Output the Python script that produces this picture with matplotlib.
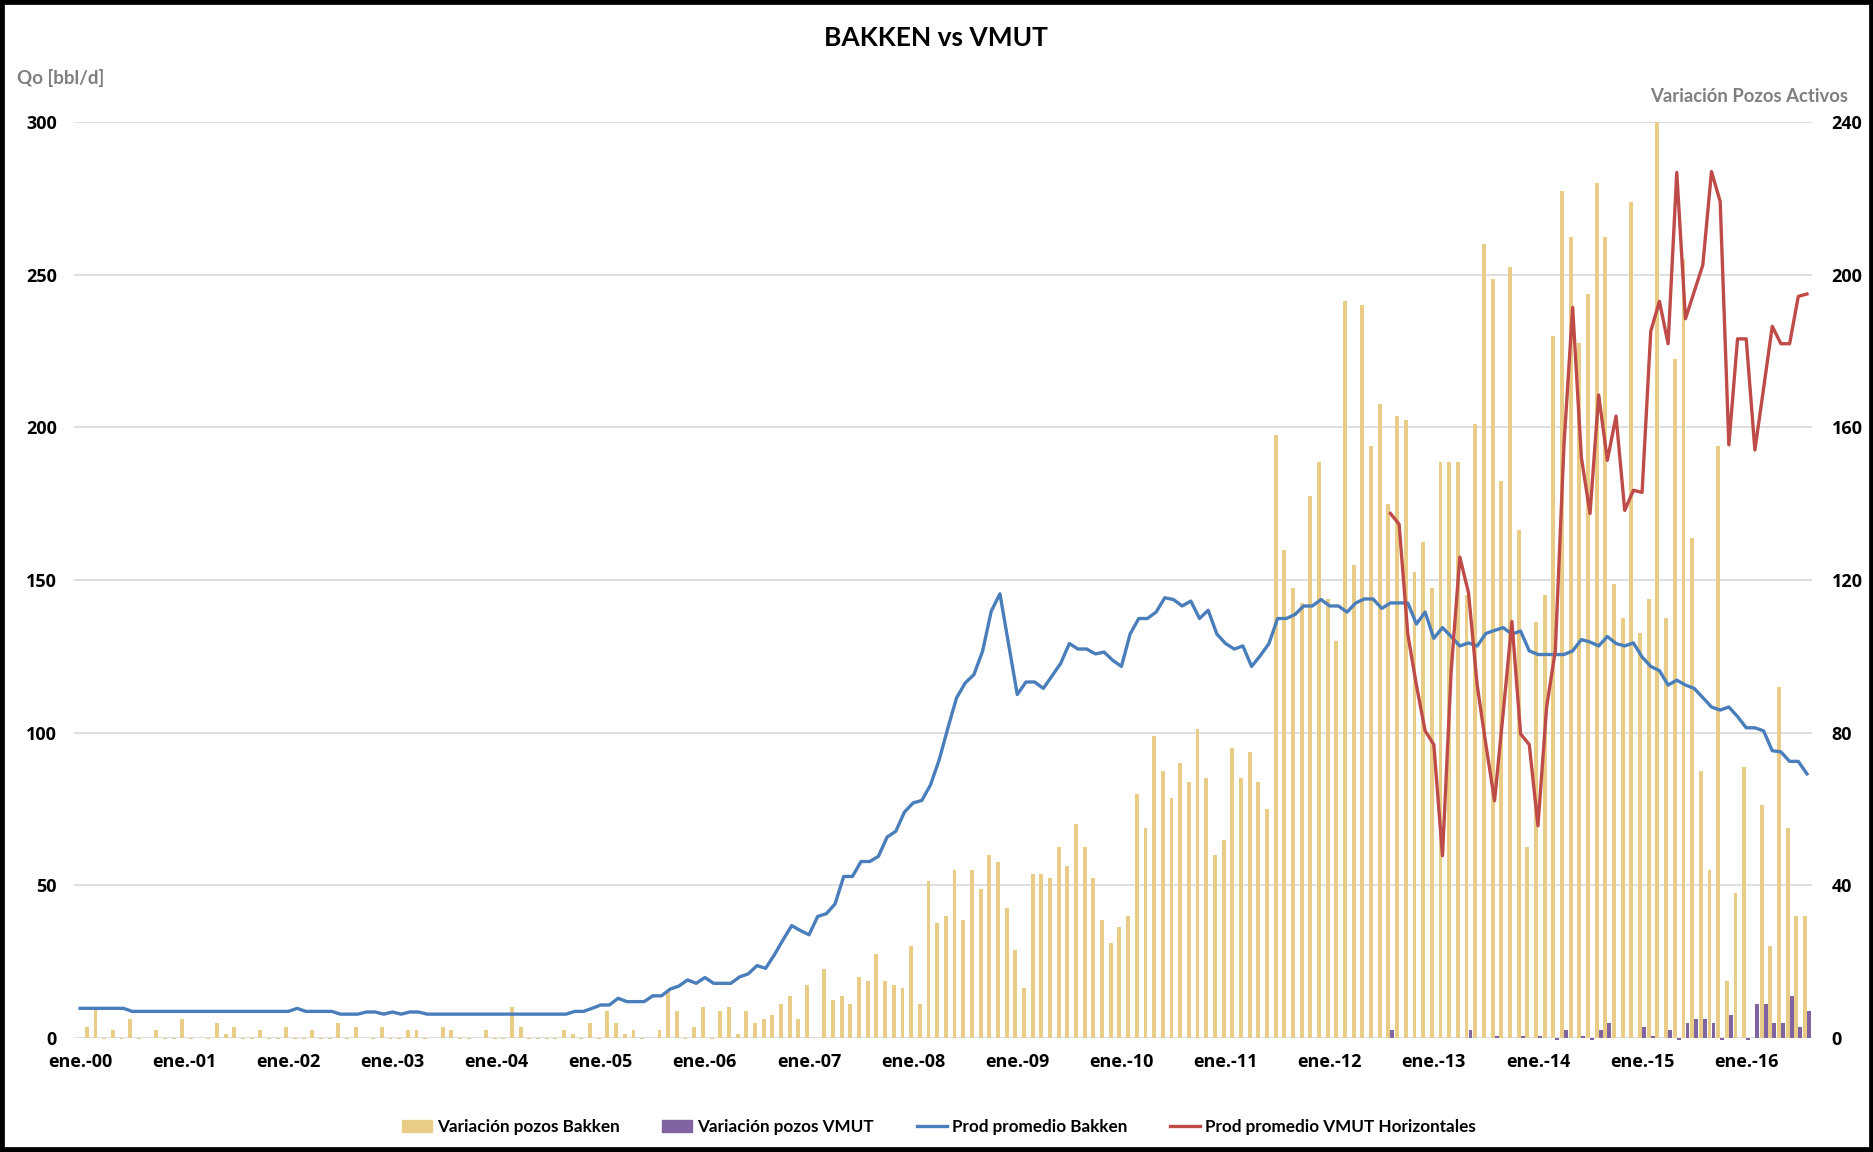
import matplotlib

matplotlib.use("Agg")
import matplotlib.pyplot as plt
import numpy as np
from matplotlib.lines import Line2D
from matplotlib.patches import Patch, Rectangle

# Monthly data, ene.-00 .. ago.-16 (200 months), one row per year
bakken_wells = [
    0, 3, 8, -0.4, 2, -0.4, 5, -0.4, 0, 2, -0.4, -0.4,
    5, -0.4, 0, -0.4, 4, 1, 3, -0.4, -0.4, 2, -0.4, -0.4,
    3, -0.4, -0.4, 2, -0.4, -0.4, 4, -0.4, 3, 0, -0.4, 3,
    -0.4, -0.4, 2, 2, -0.4, 0, 3, 2, -0.4, -0.4, 0, 2,
    -0.4, -0.4, 8, 3, -0.4, -0.4, -0.4, -0.4, 2, 1, -0.4, 4,
    -0.4, 7, 4, 1, 2, -0.4, 0, 2, 12, 7, -0.4, 3,
    8, -0.4, 7, 8, 1, 7, 4, 5, 6, 9, 11, 5,
    14, 0, 18, 10, 11, 9, 16, 15, 22, 15, 14, 13,
    24, 9, 41, 30, 32, 44, 31, 44, 39, 48, 46, 34,
    23, 13, 43, 43, 42, 50, 45, 56, 50, 42, 31, 25,
    29, 32, 64, 55, 79, 70, 63, 72, 67, 81, 68, 48,
    52, 76, 68, 75, 67, 60, 158, 128, 118, 114, 142, 151,
    115, 104, 193, 124, 192, 155, 166, 140, 163, 162, 122, 130,
    118, 151, 151, 151, 116, 161, 208, 199, 146, 202, 133, 50,
    109, 116, 184, 222, 210, 182, 195, 224, 210, 119, 110, 219,
    106, 115, 240, 110, 178, 204, 131, 70, 44, 155, 15, 38,
    71, 0, 61, 24, 92, 55, 32, 32,
]

bakken_prod = [
    9.7, 9.7, 9.7, 9.7, 9.7, 9.7, 8.7, 8.7, 8.7, 8.7, 8.7, 8.7,
    8.7, 8.7, 8.7, 8.7, 8.7, 8.7, 8.7, 8.7, 8.7, 8.7, 8.7, 8.7,
    8.7, 9.7, 8.7, 8.7, 8.7, 8.7, 7.8, 7.8, 7.8, 8.5, 8.5, 7.8,
    8.5, 7.8, 8.5, 8.5, 7.8, 7.8, 7.8, 7.8, 7.8, 7.8, 7.8, 7.8,
    7.8, 7.8, 7.8, 7.8, 7.8, 7.8, 7.8, 7.8, 7.8, 8.7, 8.7, 9.7,
    10.8, 10.8, 13, 11.9, 11.9, 11.9, 13.8, 13.8, 16, 17, 19, 17.9,
    19.8, 17.9, 17.9, 17.9, 20, 21, 23.7, 22.8, 27.2, 32.1, 36.8, 35.2,
    33.8, 39.8, 40.7, 43.9, 52.9, 52.9, 57.8, 57.8, 59.5, 65.8, 67.7, 74,
    77, 77.8, 82.9, 91.1, 101.5, 111.4, 116.3, 119, 126.7, 139.8, 145.5, 129,
    112.5, 116.6, 116.6, 114.5, 118.6, 122.7, 129.2, 127.4, 127.4, 125.8, 126.4, 123.7,
    121.7, 132.3, 137.4, 137.4, 139.5, 144.2, 143.6, 141.5, 143.1, 137.4, 140.1, 132.3,
    129.2, 127.4, 128.4, 121.7, 125.2, 129.2, 137.4, 137.4, 138.7, 141.5, 141.5, 143.6,
    141.5, 141.5, 139.5, 142.5, 143.8, 143.8, 140.7, 142.5, 142.5, 142.5, 135.6, 139.5,
    130.9, 134.4, 131.5, 128.4, 129.4, 128.4, 132.5, 133.5, 134.4, 132.3, 133.3, 126.8,
    125.6, 125.6, 125.6, 125.6, 126.8, 130.5, 129.7, 128.4, 131.5, 129.2, 128.4, 129.4,
    124.8, 121.7, 120.3, 115.6, 117.2, 115.6, 114.5, 111.5, 108.4, 107.4, 108.4, 105.3,
    101.6, 101.6, 100.6, 94.1, 93.7, 90.6, 90.6, 86.5,
]

# VMUT wells start in ene.-12 (month 144)
vmut_wells_first = 144
vmut_wells = [
    0, 0, 0, 0, 0, 0, 0, 2, 0, 0, 0, 0,
    0, 0, 0, 0, 2, 0, 0, 0.5, 0, 0, 0.5, 0,
    0.5, 0, -0.5, 2, 0, 0.5, -0.5, 2, 4, 0, 0, 0,
    3, 0.5, 0, 2, -0.5, 4, 5, 5, 4, -0.5, 6, 0,
    -0.5, 9, 9, 4, 4, 11, 3, 7,
]

# VMUT horizontal production starts in ago.-12 (month 151)
vmut_prod_first = 151
vmut_prod = [
    171.8, 168.3, 132.3, 115.5, 100.6,
    96.1, 59.7, 120.2, 157.5, 145.8, 115.5, 96.1, 77.7, 106.7, 136.4, 99.6, 96.1,
    69.5, 108.4, 126.8, 194.3, 239.3, 190.2, 171.8, 210.6, 189.2, 203.7, 172.8, 179.4,
    178.7, 231.5, 241.3, 227.4, 283.5, 235.6, 244.4, 253.2, 283.8, 274, 194.3, 229,
    229, 192.6, 212.7, 233.1, 227.4, 227.4, 242.9, 243.7,
]

year_labels = ["ene.-00", "ene.-01", "ene.-02", "ene.-03", "ene.-04", "ene.-05",
               "ene.-06", "ene.-07", "ene.-08", "ene.-09", "ene.-10", "ene.-11",
               "ene.-12", "ene.-13", "ene.-14", "ene.-15", "ene.-16"]
left_ticks = [0, 50, 100, 150, 200, 250, 300]
right_ticks = [0, 40, 80, 120, 160, 200, 240]

YELLOW = "#E9CD87"
PURPLE = "#8064A2"
BLUE = "#4A7EBB"
RED = "#BE4B48"
GRAY = "#7F7F7F"

months = np.arange(len(bakken_prod))

fig = plt.figure(figsize=(18.74, 11.52), dpi=100)
ax = fig.add_axes([0.0395, 0.099, 0.9275, 0.795])
ax2 = ax.twinx()

# bars on the right axis (wells), lines on the left axis (Qo)
bw = 0.45
ax2.bar(months - 0.23, bakken_wells, width=bw, color=YELLOW, clip_on=False, zorder=2)
vm_x = months[vmut_wells_first:vmut_wells_first + len(vmut_wells)] + 0.23
ax2.bar(vm_x, vmut_wells, width=bw, color=PURPLE, clip_on=False, zorder=2)

ax.plot(months, bakken_prod, color=BLUE, lw=2.4, solid_joinstyle="round")
vp_x = months[vmut_prod_first:vmut_prod_first + len(vmut_prod)]
ax.plot(vp_x, vmut_prod, color=RED, lw=2.4, solid_joinstyle="round")

ax.set_zorder(ax2.get_zorder() + 1)
ax.patch.set_visible(False)

ax.set_xlim(-0.7, 199.6)
ax.set_ylim(0, 300)
ax2.set_ylim(0, 240)

ax.set_yticks(left_ticks)
ax2.set_yticks(right_ticks)
ax.set_xticks(np.arange(0, 193, 12))
ax.set_xticklabels(year_labels)

ax2.set_axisbelow(True)
ax2.yaxis.grid(True, color="#D9D9D9", lw=1.2)

tick_font = dict(family="Open Sans", weight="bold", size=13)
for a in (ax, ax2):
    for s in a.spines.values():
        s.set_visible(False)
    a.tick_params(length=0, colors="black")
ax.tick_params(axis="y", pad=12.5)
ax.tick_params(axis="x", pad=11)
ax2.tick_params(axis="y", pad=14)
for lab in ax.get_xticklabels() + ax.get_yticklabels() + ax2.get_yticklabels():
    lab.set_fontproperties(tick_font)

fig.text(0.4995, 0.967, "BAKKEN vs VMUT", ha="center", va="center",
         family="Lato", weight="bold", size=19)
fig.text(0.009, 0.932, "Qo [bbl/d]", ha="left", va="center",
         family="Lato", weight="bold", size=13.5, color=GRAY)
fig.text(0.986, 0.916, "Variación Pozos Activos", ha="right", va="center",
         family="Lato", weight="bold", size=13.3, color=GRAY)

handles = [
    Patch(color=YELLOW),
    Patch(color=PURPLE),
    Line2D([], [], color=BLUE, lw=2.4),
    Line2D([], [], color=RED, lw=2.4),
]
labels = ["Variación pozos Bakken", "Variación pozos VMUT",
          "Prod promedio Bakken", "Prod promedio VMUT Horizontales"]
fig.legend(handles, labels, loc="center", bbox_to_anchor=(0.501, 0.022), ncol=4,
           frameon=False, prop=dict(family="Lato", weight="bold", size=12.3),
           handlelength=1.75, handletextpad=0.3, columnspacing=2.5)

fig.add_artist(Rectangle((0, 0), 1, 1, transform=fig.transFigure, fill=False,
                         lw=7, ec="black"))

fig.savefig("out.png", dpi=100)
